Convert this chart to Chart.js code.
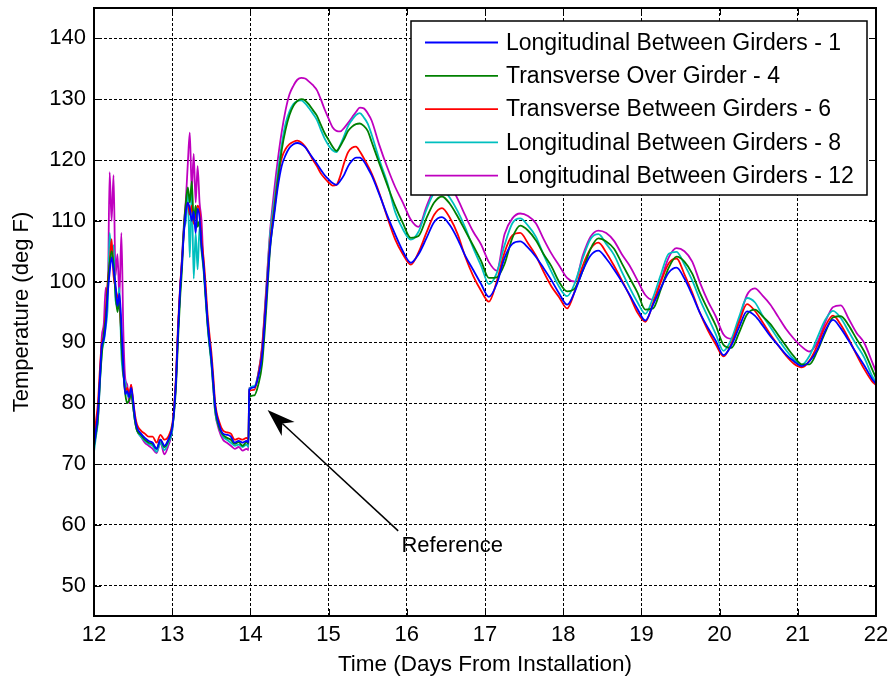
<!DOCTYPE html>
<html>
<head>
<meta charset="utf-8">
<title>Deck temperature after installation</title>
<script src="https://cdn.jsdelivr.net/npm/chart.js@4.4.1/dist/chart.umd.min.js"></script>
<style>
  html, body { margin: 0; padding: 0; background: #fff; }
  canvas { display: block; }
</style>
</head>
<body>
<canvas id="chart" width="891" height="683"></canvas>
<script>
// Sample times (days from installation)
const days = [
  12.000, 12.025, 12.050, 12.075, 12.100, 12.125, 12.150, 12.175, 12.200, 12.225, 12.250, 12.275,
  12.300, 12.325, 12.350, 12.375, 12.400, 12.425, 12.450, 12.475, 12.500, 12.525, 12.550,
  12.60, 12.65, 12.70, 12.75, 12.80, 12.85, 12.90, 12.95, 13.00,
  13.025, 13.050, 13.075, 13.100, 13.125, 13.150, 13.175, 13.200, 13.225, 13.250, 13.275,
  13.300, 13.325, 13.350, 13.375, 13.400, 13.425, 13.450, 13.475, 13.500, 13.525, 13.550,
  13.60, 13.65, 13.70, 13.75, 13.80, 13.85, 13.90, 13.95, 13.975,
  13.985,
  14.05, 14.10, 14.15, 14.20, 14.25, 14.30, 14.35, 14.40, 14.45, 14.50, 14.55, 14.60, 14.65, 14.70, 14.75,
  14.80, 14.85, 14.90, 14.95, 15.00, 15.05, 15.10, 15.15, 15.20, 15.25, 15.30, 15.35, 15.40, 15.45, 15.50,
  15.55, 15.65, 15.75, 15.85, 15.95, 16.05, 16.15, 16.25, 16.35, 16.45, 16.55, 16.65, 16.75, 16.85, 16.95,
  17.05, 17.15, 17.25, 17.35, 17.45, 17.55, 17.65, 17.75, 17.85, 17.95,
  18.05, 18.15, 18.25, 18.35, 18.45, 18.55, 18.65, 18.75, 18.85, 18.95,
  19.05, 19.15, 19.25, 19.35, 19.45, 19.55, 19.65, 19.75, 19.85, 19.95,
  20.05, 20.15, 20.25, 20.35, 20.45, 20.55, 20.65, 20.75, 20.85, 20.95,
  21.05, 21.15, 21.25, 21.35, 21.45, 21.55, 21.65, 21.75, 21.85, 21.95, 22.00
];

// Temperatures (deg F) for each gauge
const longBetween1 = [
  73.0, 75.5, 78.5, 84.0, 89.5, 90.5, 93.0, 98.0, 101.5, 104.0, 102.0, 99.5,
  96.0, 98.0, 93.0, 86.0, 81.5, 82.0, 81.0, 82.5, 80.5, 77.5, 76.0,
  75.0, 74.3, 73.8, 73.5, 72.5, 74.0, 73.0, 74.0, 76.0,
  79.0, 84.0, 92.0, 98.5, 103.0, 108.0, 111.5, 113.0, 112.0, 110.0, 111.5,
  108.0, 112.0, 110.5, 106.0, 103.0, 98.5, 94.0, 90.5, 87.5, 83.5, 79.5,
  76.5, 75.0, 74.8, 74.5, 73.5, 73.8, 73.5, 73.8, 73.5,
  82.2,
  82.6, 84.3, 88.0, 96.5, 105.5, 110.5, 115.5, 119.0, 120.8, 122.0, 122.6, 122.8, 122.6, 122.1, 121.2,
  120.3, 119.4, 118.4, 117.5, 116.8, 116.2, 115.9, 116.6, 117.6, 119.0, 119.9, 120.4, 120.4, 119.8, 118.7,
  117.5, 114.3, 110.9, 107.8, 105.0, 103.1, 104.5, 107.1, 109.8, 110.6, 109.3, 107.0, 104.2, 101.9, 99.6,
  97.5, 99.6, 103.9, 106.2, 106.6, 105.6, 104.1, 102.2, 100.2, 98.0,
  96.2, 98.4, 101.8, 104.3, 105.1, 103.8, 102.0, 100.0, 97.8, 95.5,
  93.6, 96.2, 99.0, 101.5, 102.3, 100.5, 97.8, 94.8, 92.4, 90.3,
  87.9, 89.5, 92.5, 95.1, 94.4, 92.8, 91.0, 89.5, 88.0, 86.9,
  86.1, 86.9, 88.8, 91.9, 93.7, 92.3, 90.3, 88.2, 86.2, 84.0, 83.2
];

const transOver4 = [
  73.0, 75.0, 77.5, 83.5, 88.0, 91.5, 94.0, 99.0, 103.0, 105.0, 103.0, 98.0,
  95.0, 97.0, 90.0, 85.0, 81.5, 80.0, 80.5, 81.5, 79.5, 77.0, 75.5,
  74.8, 74.0, 73.5, 73.3, 72.5, 74.0, 72.8, 73.8, 76.0,
  78.5, 83.0, 90.5, 97.0, 102.0, 109.0, 113.0, 115.5, 113.0, 116.5, 110.0,
  112.5, 109.0, 110.0, 105.5, 102.5, 98.0, 93.5, 90.0, 87.0, 83.0, 79.0,
  76.0, 74.8, 74.3, 74.0, 73.3, 73.6, 73.0, 73.6, 73.3,
  81.0,
  81.3, 83.0, 86.5, 95.0, 105.0, 111.0, 116.5, 121.6, 125.0, 127.4, 128.9, 129.7, 130.0, 129.8, 129.1,
  128.2, 127.3, 125.8, 124.4, 123.3, 122.2, 121.5, 122.3, 123.5, 124.8, 125.5, 125.9, 126.0, 125.6, 124.8,
  123.0, 119.4, 115.9, 112.5, 109.6, 107.2, 107.5, 110.4, 113.0, 114.0, 112.8, 110.7, 108.3, 105.9, 103.4,
  100.6, 100.7, 102.9, 107.2, 109.2, 108.4, 106.8, 104.5, 102.5, 99.9,
  98.4, 98.9, 101.8, 105.4, 107.1, 106.6, 105.4, 103.0, 100.6, 98.2,
  95.4, 95.6, 98.8, 102.3, 104.1, 103.3, 101.3, 98.1, 95.4, 92.8,
  89.6, 89.1, 91.6, 94.6, 95.4, 94.3, 93.0, 91.2, 89.4, 87.7,
  86.4, 86.4, 88.6, 91.6, 94.1, 94.3, 92.8, 90.6, 88.5, 85.6, 84.1
];

const transBetween6 = [
  74.0, 77.0, 80.0, 85.5, 90.0, 91.0, 95.0, 100.0, 103.0, 107.0, 101.0, 99.0,
  97.5, 96.5, 91.0, 85.5, 82.0, 82.5, 81.5, 83.0, 80.5, 78.0, 76.5,
  75.5, 75.0, 74.5, 74.5, 73.5, 74.8, 74.0, 74.5, 76.5,
  79.5, 85.0, 93.0, 99.0, 103.5, 108.5, 112.0, 113.0, 111.0, 112.5, 109.5,
  111.0, 112.5, 111.5, 107.0, 104.0, 100.0, 95.0, 91.5, 88.5, 84.5, 80.0,
  77.0, 75.5, 75.2, 75.0, 74.0, 74.2, 74.0, 74.3, 74.0,
  82.0,
  82.2, 84.6, 89.0, 97.5, 106.2, 111.5, 116.8, 120.3, 121.8, 122.6, 123.0, 123.2, 122.9, 122.2, 121.2,
  120.0, 119.0, 117.8, 117.0, 116.3, 115.8, 115.9, 117.4, 119.6, 121.3, 122.0, 122.2, 121.4, 120.3, 119.1,
  117.8, 114.5, 110.6, 107.0, 104.5, 102.8, 104.8, 108.0, 111.0, 112.1, 110.5, 107.8, 104.0, 100.9, 98.5,
  96.7, 100.0, 104.8, 107.6, 108.0, 106.3, 104.3, 101.6, 99.2, 97.4,
  95.6, 98.5, 102.6, 105.4, 106.4, 104.8, 102.6, 100.2, 97.7, 94.9,
  93.4, 96.5, 100.0, 103.0, 103.8, 101.2, 98.2, 94.8, 92.0, 89.7,
  87.7, 89.8, 93.3, 96.3, 95.2, 93.3, 91.3, 89.5, 87.8, 86.5,
  85.9, 87.0, 89.5, 92.6, 94.4, 92.9, 90.6, 88.0, 85.6, 83.6, 83.0
];

const longBetween8 = [
  72.0, 74.5, 77.0, 83.0, 88.5, 90.0, 92.5, 96.0, 108.0, 104.0, 106.0, 97.0,
  96.0, 99.0, 88.0, 84.5, 83.5, 81.5, 81.0, 82.0, 79.5, 77.0, 75.5,
  74.5, 73.8, 73.3, 73.0, 72.0, 73.5, 72.3, 73.5, 75.5,
  79.0, 84.5, 92.0, 98.0, 103.5, 108.5, 110.0, 114.5, 104.0, 115.0, 100.5,
  108.0, 102.0, 109.0, 105.0, 102.0, 97.5, 93.0, 89.5, 86.5, 82.5, 78.5,
  76.0, 74.5, 74.0, 73.5, 73.0, 73.2, 72.8, 73.2, 72.8,
  82.3,
  82.8, 84.8, 89.0, 98.0, 107.5, 113.0, 118.0, 122.5, 126.0, 128.0, 129.2, 129.7, 129.8, 129.3, 128.5,
  127.6, 126.6, 125.0, 123.5, 122.4, 121.6, 121.3, 122.5, 124.0, 125.6, 126.6, 127.4, 127.7, 127.0, 126.0,
  124.2, 120.0, 116.3, 111.5, 108.6, 106.9, 108.2, 111.8, 114.6, 115.3, 113.8, 111.6, 108.8, 105.5, 102.6,
  99.6, 101.4, 106.0, 109.6, 110.4, 109.2, 107.4, 104.4, 101.6, 99.1,
  97.6, 99.8, 103.8, 107.0, 107.8, 106.2, 104.4, 101.6, 99.0, 96.6,
  94.7, 97.4, 101.2, 104.6, 104.9, 102.8, 100.2, 97.0, 94.2, 91.4,
  88.6, 90.5, 94.2, 97.3, 96.6, 94.4, 92.5, 90.5, 88.7, 87.2,
  86.3, 87.8, 90.8, 93.7, 95.2, 94.0, 91.8, 89.6, 87.5, 84.5, 83.5
];

const longBetween12 = [
  72.8, 75.0, 77.5, 83.5, 91.0, 93.0, 99.0, 97.0, 118.0, 110.0, 117.5, 101.0,
  104.5, 97.5, 108.0, 92.0, 84.0, 83.0, 80.0, 83.0, 79.5, 77.0, 75.5,
  74.5, 73.5, 73.0, 72.5, 71.8, 73.5, 71.6, 73.0, 75.5,
  79.0, 84.0, 92.0, 98.5, 104.0, 109.5, 113.5, 119.5, 124.5, 115.0, 121.0,
  113.0, 119.0, 113.0, 110.0, 103.0, 98.5, 93.5, 90.0, 87.0, 82.5, 78.5,
  75.5, 74.0, 73.5, 73.0, 72.5, 72.8, 72.2, 72.5, 72.3,
  82.5,
  82.7, 84.8, 89.5, 98.5, 108.0, 114.5, 120.0, 124.6, 128.2, 130.8, 132.2, 133.2, 133.5, 133.4, 132.9,
  132.3, 131.5, 130.0, 128.3, 126.8, 125.4, 124.8, 124.7, 125.3, 126.1, 127.0, 127.9, 128.6, 128.5, 127.7,
  126.5, 122.4, 118.8, 115.6, 113.0, 110.2, 109.0, 112.3, 115.3, 116.8, 116.0, 113.6, 110.8, 108.2, 106.1,
  103.2, 101.8, 107.8, 110.4, 111.2, 110.8, 109.6, 107.0, 104.6, 102.6,
  100.6, 100.0, 104.3, 107.4, 108.4, 108.0, 106.7, 104.5, 102.6, 100.2,
  97.8, 97.0, 100.3, 104.0, 105.5, 105.0, 103.3, 99.8, 96.8, 94.3,
  91.3, 90.6, 93.8, 97.8, 98.9, 97.7, 96.2, 94.2, 92.2, 90.6,
  89.3, 88.5, 90.0, 93.3, 95.8, 96.1, 93.9, 91.6, 89.9, 86.8, 85.2
];

const seriesNames = [
  'Longitudinal Between Girders - 1',
  'Transverse Over Girder - 4',
  'Transverse Between Girders - 6',
  'Longitudinal Between Girders - 8',
  'Longitudinal Between Girders - 12'
];
const seriesValues = [longBetween1, transOver4, transBetween6, longBetween8, longBetween12];
const seriesColors = ['#0000ff', '#008000', '#ff0000', '#00bfbf', '#bf00bf'];

const xTicks = [12, 13, 14, 15, 16, 17, 18, 19, 20, 21, 22];
const yTicks = [50, 60, 70, 80, 90, 100, 110, 120, 130, 140];

// "Reference" callout, in data coordinates (day, deg F)
const refText = 'Reference';
const refTextAt = { x: 16.58, y: 56.5 };
const refArrowFrom = { x: 15.89, y: 59.0 };
const refArrowTo = { x: 14.22, y: 78.9 };

const FONT = "'Liberation Sans', Arial, Helvetica, sans-serif";
Chart.defaults.font.family = FONT;
Chart.defaults.color = '#000';

// Boxed axes with inward ticks, inset legend and the arrow callout
const framePlugin = {
  id: 'matlabFrame',
  afterDatasetsDraw(chart) {
    const { ctx, chartArea: a } = chart;
    const w = 456, h = 174;
    const left = a.right - 9 - w, top = a.top + 13;
    ctx.save();
    ctx.fillStyle = '#fff';
    ctx.fillRect(left, top, w, h);
    ctx.strokeStyle = '#000';
    ctx.lineWidth = 1.5;
    ctx.strokeRect(left, top, w, h);
    ctx.font = '23px ' + FONT;
    ctx.textBaseline = 'middle';
    ctx.textAlign = 'left';
    chart.data.datasets.forEach((ds, i) => {
      const yy = top + 21.5 + i * 33.3;
      ctx.strokeStyle = ds.borderColor;
      ctx.lineWidth = 1.8;
      ctx.beginPath();
      ctx.moveTo(left + 14, yy);
      ctx.lineTo(left + 87, yy);
      ctx.stroke();
      ctx.fillStyle = '#000';
      ctx.fillText(ds.label, left + 95, yy + 1);
    });
    ctx.restore();
  },
  afterDraw(chart) {
    const { ctx, chartArea: a, scales: { x, y } } = chart;
    ctx.save();
    ctx.strokeStyle = '#000';
    ctx.lineWidth = 1;
    const TL = 7;
    ctx.beginPath();
    x.ticks.forEach(t => {
      const px = Math.round(x.getPixelForValue(t.value)) + 0.5;
      ctx.moveTo(px, a.bottom); ctx.lineTo(px, a.bottom - TL);
      ctx.moveTo(px, a.top); ctx.lineTo(px, a.top + TL);
    });
    y.ticks.forEach(t => {
      const py = Math.round(y.getPixelForValue(t.value)) + 0.5;
      ctx.moveTo(a.left, py); ctx.lineTo(a.left + TL, py);
      ctx.moveTo(a.right, py); ctx.lineTo(a.right - TL, py);
    });
    ctx.stroke();
    ctx.lineWidth = 2;
    ctx.strokeRect(a.left, a.top, a.right - a.left, a.bottom - a.top);

    // callout arrow
    const hx = x.getPixelForValue(refArrowTo.x), hy = y.getPixelForValue(refArrowTo.y);
    const tx = x.getPixelForValue(refArrowFrom.x), ty = y.getPixelForValue(refArrowFrom.y);
    const len = Math.hypot(hx - tx, hy - ty);
    const ux = (hx - tx) / len, uy = (hy - ty) / len;
    const px = -uy, py = ux;
    const headLen = 28, headHalf = 9.5, notch = 20;
    ctx.lineWidth = 1.5;
    ctx.beginPath();
    ctx.moveTo(tx, ty);
    ctx.lineTo(hx - ux * notch, hy - uy * notch);
    ctx.stroke();
    ctx.fillStyle = '#000';
    ctx.beginPath();
    ctx.moveTo(hx, hy);
    ctx.lineTo(hx - ux * headLen + px * headHalf, hy - uy * headLen + py * headHalf);
    ctx.lineTo(hx - ux * notch, hy - uy * notch);
    ctx.lineTo(hx - ux * headLen - px * headHalf, hy - uy * headLen - py * headHalf);
    ctx.closePath();
    ctx.fill();

    ctx.font = '22px ' + FONT;
    ctx.textAlign = 'center';
    ctx.textBaseline = 'middle';
    ctx.fillText(refText, x.getPixelForValue(refTextAt.x), y.getPixelForValue(refTextAt.y));
    ctx.restore();
  }
};

new Chart(document.getElementById('chart'), {
  type: 'line',
  data: {
    datasets: seriesValues.map((vals, i) => ({
      label: seriesNames[i],
      data: days.map((d, j) => ({ x: d, y: vals[j] })),
      borderColor: seriesColors[i],
      backgroundColor: seriesColors[i],
      borderWidth: 1.8,
      pointRadius: 0,
      fill: false,
      cubicInterpolationMode: 'monotone'
    }))
  },
  options: {
    responsive: false,
    animation: false,
    events: [],
    layout: { padding: { left: 0, right: 15, top: 8, bottom: 0 } },
    plugins: {
      legend: { display: false },
      tooltip: { enabled: false }
    },
    scales: {
      x: {
        type: 'linear',
        min: 12,
        max: 22,
        afterBuildTicks: s => { s.ticks = xTicks.map(v => ({ value: v })); },
        afterFit: s => { s.height = 67; s.paddingLeft = 0; s.paddingRight = 0; },
        grid: { color: '#000', lineWidth: 1, drawTicks: false },
        border: { display: false, dash: [3, 2] },
        ticks: { padding: 6, maxRotation: 0, color: '#000', font: { size: 22 } },
        title: {
          display: true,
          text: 'Time (Days From Installation)',
          color: '#000',
          font: { size: 22.5 },
          padding: { top: 0, bottom: 5 }
        }
      },
      y: {
        type: 'linear',
        min: 45,
        max: 145,
        afterBuildTicks: s => { s.ticks = yTicks.map(v => ({ value: v })); },
        afterFit: s => { s.width = 94; s.paddingTop = 0; s.paddingBottom = 0; },
        grid: { color: '#000', lineWidth: 1, drawTicks: false },
        border: { display: false, dash: [3, 2] },
        ticks: { padding: 8, color: '#000', font: { size: 22 } },
        title: {
          display: true,
          text: 'Temperature (deg F)',
          color: '#000',
          font: { size: 22 },
          padding: { top: 9, bottom: 0 }
        }
      }
    }
  },
  plugins: [framePlugin]
});
</script>
</body>
</html>
